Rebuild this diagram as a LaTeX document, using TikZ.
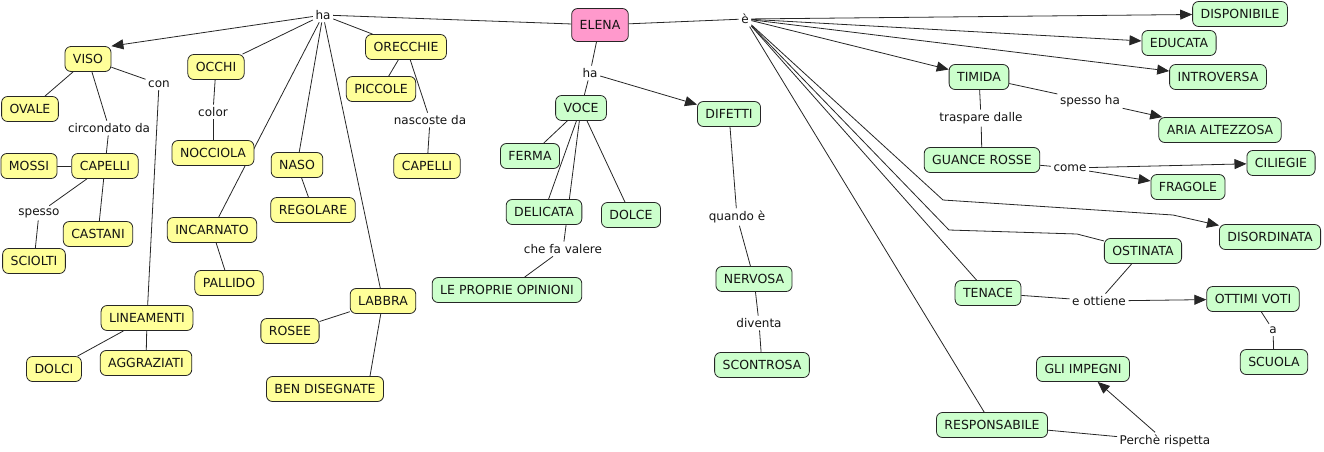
\documentclass[tikz,border=0pt]{standalone}
\usepackage{fontspec}
\setmainfont{DejaVu Sans}
\usetikzlibrary{arrows.meta,backgrounds}
\definecolor{cyel}{HTML}{FFFF99}
\definecolor{cgrn}{HTML}{CCFFCC}
\definecolor{cpnk}{HTML}{FF99CC}
\tikzset{
  concept/.style={draw=black!85, line width=0.8pt, rounded corners=6pt,
    minimum height=25pt, inner xsep=8pt, inner ysep=2pt,
    font=\fontsize{12.5}{14}\selectfont, text=black!92},
  yc/.style={concept, fill=cyel},
  gc/.style={concept, fill=cgrn},
  lbl/.style={inner sep=2.5pt, font=\fontsize{12}{14}\selectfont, text=black!92},
  link/.style={draw=black!85, line width=0.8pt},
  arr/.style={link, -{Triangle[length=12pt,width=10pt]}}
}
\begin{document}
\begin{tikzpicture}[x=1pt,y=-1pt]
\useasboundingbox (0,0) rectangle (1324,451);
% central
\node[concept, fill=cpnk, minimum width=55pt, minimum height=33pt] (elena) at (600,25) {ELENA};
% yellow concepts
\node[yc] (viso) at (88,59) {VISO};
\node[yc] (ovale) at (30,109) {OVALE};
\node[yc] (occhi) at (216,67) {OCCHI};
\node[yc] (orecchie) at (406,47) {ORECCHIE};
\node[yc] (piccole) at (381,89) {PICCOLE};
\node[yc] (mossi) at (29,166) {MOSSI};
\node[yc] (capelli) at (105,166) {CAPELLI};
\node[yc] (nocciola) at (213,153) {NOCCIOLA};
\node[yc] (naso) at (297,165) {NASO};
\node[yc] (regolare) at (313,210) {REGOLARE};
\node[yc] (capelliB) at (427,166) {CAPELLI};
\node[yc] (castani) at (98,234) {CASTANI};
\node[yc] (sciolti) at (34,261) {SCIOLTI};
\node[yc] (incarnato) at (212,230) {INCARNATO};
\node[yc] (pallido) at (229,283) {PALLIDO};
\node[yc] (lineamenti) at (147,318) {LINEAMENTI};
\node[yc] (dolci) at (54,369) {DOLCI};
\node[yc] (aggraziati) at (146,363) {AGGRAZIATI};
\node[yc] (labbra) at (383,301) {LABBRA};
\node[yc] (rosee) at (290,331) {ROSEE};
\node[yc] (bendis) at (325,389) {BEN DISEGNATE};
% green concepts
\node[gc] (voce) at (581,108) {VOCE};
\node[gc] (difetti) at (729,114) {DIFETTI};
\node[gc] (ferma) at (530,156) {FERMA};
\node[gc] (delicata) at (544,212) {DELICATA};
\node[gc] (dolce) at (631,215) {DOLCE};
\node[gc] (opinioni) at (507,290) {LE PROPRIE OPINIONI};
\node[gc] (nervosa) at (754,279) {NERVOSA};
\node[gc] (scontrosa) at (762,365) {SCONTROSA};
\node[gc] (disponibile) at (1240,14) {DISPONIBILE};
\node[gc] (educata) at (1179,43) {EDUCATA};
\node[gc] (introversa) at (1218,77) {INTROVERSA};
\node[gc] (timida) at (979,77) {TIMIDA};
\node[gc] (aria) at (1220,130) {ARIA ALTEZZOSA};
\node[gc] (guance) at (982,160) {GUANCE ROSSE};
\node[gc] (ciliegie) at (1281,163) {CILIEGIE};
\node[gc] (fragole) at (1188,187) {FRAGOLE};
\node[gc] (disordinata) at (1270,237) {DISORDINATA};
\node[gc] (ostinata) at (1143,251) {OSTINATA};
\node[gc] (tenace) at (988,293) {TENACE};
\node[gc] (ottimi) at (1253,299) {OTTIMI VOTI};
\node[gc] (scuola) at (1274,362) {SCUOLA};
\node[gc] (impegni) at (1083,369) {GLI IMPEGNI};
\node[gc] (responsabile) at (992,425) {RESPONSABILE};
% linking phrases
\node[lbl] (haT) at (323,15) {ha};
\node[lbl] (con) at (159,84) {con};
\node[lbl] (circ) at (109,128) {circondato da};
\node[lbl] (color) at (213,112) {color};
\node[lbl] (spesso) at (39,213) {spesso};
\node[lbl] (nasc) at (430,120) {nascoste da};
\node[lbl] (haM) at (590,73) {ha};
\node[lbl] (chefa) at (563,249) {che fa valere};
\node[lbl] (quando) at (737,217) {quando è};
\node[lbl] (diventa) at (759,323) {diventa};
\node[lbl] (e) at (745,19) {è};
\node[lbl] (spessoha) at (1090,101) {spesso ha};
\node[lbl] (traspare) at (981,118) {traspare dalle};
\node[lbl] (come) at (1070,168) {come};
\node[lbl] (ottiene) at (1099,301) {e ottiene};
\node[lbl] (a) at (1273,330) {a};
\node[lbl] (perche) at (1165,441) {Perchè rispetta};
% bend points
\coordinate (d1) at (943,200);
\coordinate (d2) at (1173,215);
\coordinate (o1) at (949,230);
\coordinate (o2) at (1077,234);
\begin{scope}[on background layer]
% left part
\draw[link] (elena) -- (haT);
\draw[arr] (haT) -- (viso.north east);
\draw[link] (haT) -- (occhi);
\draw[link] (haT) -- (incarnato);
\draw[link] (haT) -- (naso);
\draw[link] (haT) -- (labbra);
\draw[link] (haT) -- (orecchie);
\draw[link] (viso) -- (ovale);
\draw[link] (viso) -- (circ);
\draw[link] (circ) -- (capelli);
\draw[link] (viso) -- (con);
\draw[link] (con) -- (lineamenti);
\draw[link] (mossi) -- (capelli);
\draw[link] (capelli) -- (spesso);
\draw[link] (spesso) -- (sciolti);
\draw[link] (capelli) -- (castani);
\draw[link] (occhi) -- (color);
\draw[link] (color) -- (nocciola);
\draw[link] (naso) -- (regolare);
\draw[link] (incarnato) -- (pallido);
\draw[link] (labbra) -- (rosee);
\draw[link] (labbra) -- ([xshift=45pt]bendis.north);
\draw[link] (lineamenti) -- (dolci);
\draw[link] (lineamenti) -- (aggraziati);
\draw[link] (orecchie) -- (piccole);
\draw[link] (orecchie) -- (nasc);
\draw[link] (nasc) -- (capelliB);
% middle part
\draw[link] (elena) -- (haM);
\draw[link] (haM) -- (voce);
\draw[arr] (haM) -- (difetti);
\draw[link] (voce) -- (ferma);
\draw[link] (voce) -- (delicata);
\draw[link] (voce) -- (chefa);
\draw[link] (voce) -- (dolce);
\draw[link] (chefa) -- (opinioni);
\draw[link] (difetti) -- (quando);
\draw[link] (quando) -- (nervosa);
\draw[link] (nervosa) -- (diventa);
\draw[link] (diventa) -- (scontrosa);
% right part
\draw[link] (elena) -- (e);
\draw[arr] (e) -- (disponibile);
\draw[arr] (e) -- (educata);
\draw[arr] (e) -- (introversa);
\draw[arr] (e) -- (timida);
\draw[arr] (e) -- (d1) -- (d2) -- (disordinata);
\draw[link] (e) -- (o1) -- (o2) -- (ostinata);
\draw[link] (e) -- (tenace);
\draw[link] (e) -- (responsabile);
\draw[link] (timida) -- (spessoha);
\draw[arr] (spessoha) -- (aria);
\draw[link] (timida) -- (traspare);
\draw[link] (traspare) -- (guance);
\draw[link] (guance) -- (come);
\draw[arr] (come) -- (ciliegie);
\draw[arr] (come) -- (fragole);
\draw[link] (tenace) -- (ottiene);
\draw[link] (ostinata) -- (ottiene);
\draw[arr] (ottiene) -- (ottimi);
\draw[link] (ottimi) -- (a);
\draw[link] (a) -- (scuola);
\draw[link] (responsabile) -- (perche);
\draw[arr] (perche) -- (impegni);
\end{scope}
\end{tikzpicture}
\end{document}
